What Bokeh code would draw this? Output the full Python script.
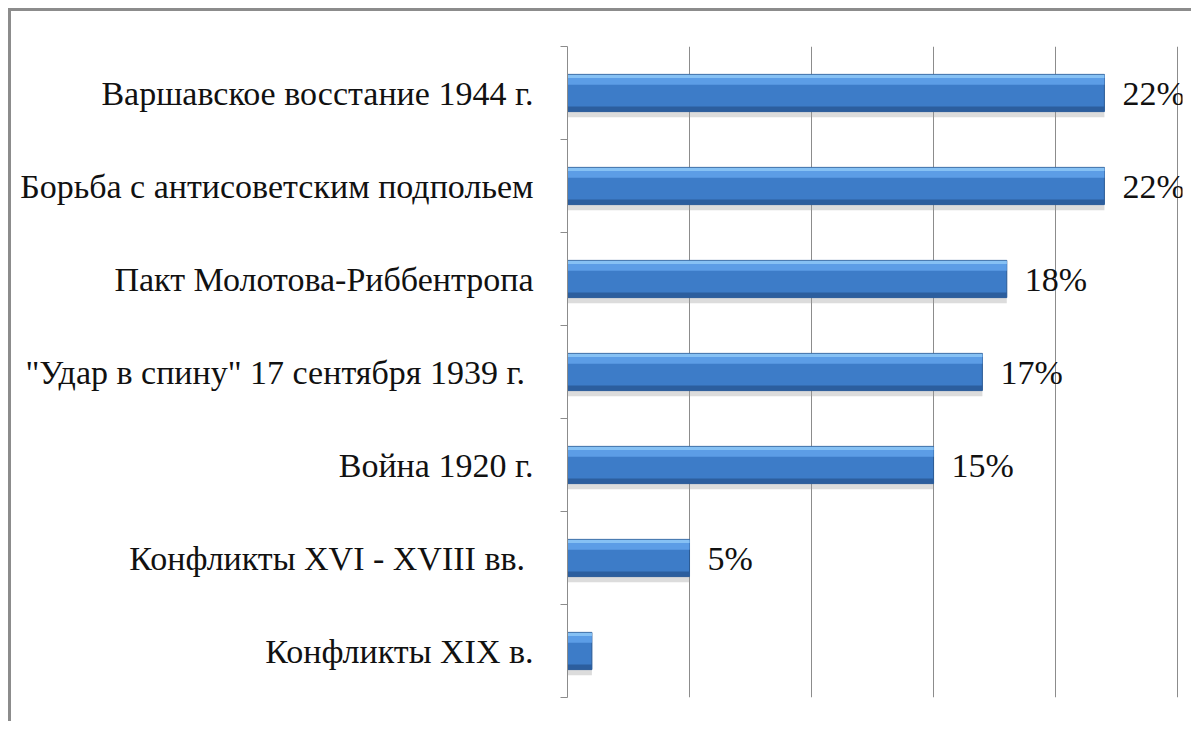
from bokeh.plotting import figure
from bokeh.models import ColumnDataSource, FixedTicker, Grid, LabelSet, Range1d
from bokeh.core.properties import value
from bokeh.embed import file_html
from bokeh.resources import INLINE

categories = [
    "Варшавское восстание 1944 г.",
    "Борьба с антисоветским подпольем",
    "Пакт Молотова-Риббентропа",
    "\"Удар в спину\"  17 сентября 1939 г.",
    "Война 1920 г.",
    "Конфликты XVI - XVIII  вв.",
    "Конфликты XIX в.",
]
values = [22, 22, 18, 17, 15, 5, 1]
value_labels = ["22%", "22%", "18%", "17%", "15%", "5%", ""]
grid_ticks = [0, 5, 10, 15, 20, 25]

FONT = "Liberation Serif"

n = len(categories)
pos = [n - i - 0.5 for i in range(n)]
bounds = list(range(n + 1))

src = ColumnDataSource(dict(
    y=pos, v=values, lab=value_labels,
    ysh=[p_ - 0.05 for p_ in pos],
    ytop=[p_ + 0.14 for p_ in pos],
    ytop2=[p_ + 0.18 for p_ in pos],
    ybot=[p_ - 0.17 for p_ in pos],
))

p = figure(width=1183, height=713, output_backend="svg", toolbar_location=None,
           x_range=Range1d(0, 25.2), y_range=Range1d(0, n),
           x_axis_location=None, min_border_left=556, min_border_right=12,
           min_border_top=35, min_border_bottom=27)
p.styles = {"border-left": "3px solid #8c8c8c", "border-top": "3px solid #8c8c8c",
            "margin-left": "8px", "margin-top": "8px"}
p.outline_line_color = None
p.background_fill_color = "white"
p.border_fill_color = "white"

p.xgrid.visible = False
p.ygrid.visible = False
p.add_layout(Grid(dimension=0, ticker=FixedTicker(ticks=grid_ticks),
                  grid_line_color="#8c8c8c", grid_line_width=1))

ax = p.yaxis[0]
ax.ticker = FixedTicker(ticks=pos, minor_ticks=bounds)
ax.major_label_overrides = {pv: c for pv, c in zip(pos, categories)}
ax.major_tick_out = 0
ax.major_tick_in = 0
ax.minor_tick_out = 7
ax.minor_tick_in = 0
ax.minor_tick_line_color = "#8c8c8c"
ax.axis_line_color = "#8c8c8c"
ax.major_label_standoff = 27
ax.major_label_text_font = FONT
ax.major_label_text_font_size = "34px"
ax.major_label_text_color = "#111111"

# shadow
p.hbar(y="ysh", right="v", left=0, height=0.42, source=src,
       fill_color="#9a9a9a", fill_alpha=0.35, line_color=None)
# main bar
p.hbar(y="y", right="v", left=0, height=0.40, source=src,
       fill_color="#3d7cc8", line_color="#2b5b95", line_width=1)
# highlights
p.hbar(y="ytop", right="v", left=0, height=0.10, source=src,
       fill_color="#5c9de6", line_color=None)
p.hbar(y="ytop2", right="v", left=0, height=0.035, source=src,
       fill_color="#86c1f4", line_color=None)
p.hbar(y="ybot", right="v", left=0, height=0.05, source=src,
       fill_color="#2c5e9e", line_color=None)

labels = LabelSet(x="v", y="y", text="lab", source=src, x_offset=18, y_offset=0,
                  text_baseline="middle", text_font=value(FONT),
                  text_font_size=value("34px"), text_color="#111111")
p.add_layout(labels)

open("out.html", "w").write(file_html(p, INLINE))
